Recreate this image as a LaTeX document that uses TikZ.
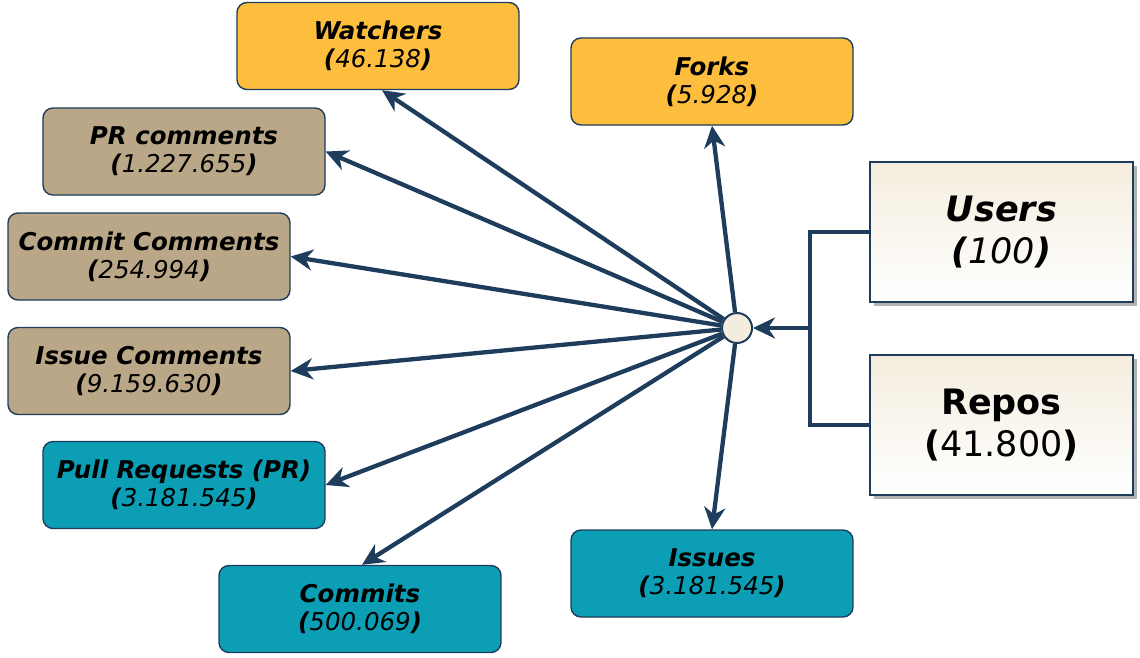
\documentclass[tikz,border=0pt]{standalone}
\usepackage{fontspec}
\setmainfont{DejaVu Sans}
\usetikzlibrary{arrows.meta,shadows}

\definecolor{navy}{HTML}{1E3D5C}
\definecolor{amber}{HTML}{FDBE3D}
\definecolor{tan}{HTML}{BAA787}
\definecolor{teal}{HTML}{0B9EB4}
\definecolor{cream}{HTML}{F4EDDE}

\newcommand{\bi}[1]{\textbf{\textit{#1}}}
\newcommand{\entry}[2]{\bi{#1}\\\bi{(}\textit{#2}\bi{)}}

\tikzset{
  entity/.style={draw=navy, line width=1.4pt, rounded corners=10pt,
    minimum width=282pt, minimum height=87pt, inner sep=0pt,
    align=center, text=black, font=\fontsize{24.5}{28}\selectfont},
  yellowbox/.style={entity, fill=amber},
  tanbox/.style={entity, fill=tan},
  tealbox/.style={entity, fill=teal},
  source/.style={draw=navy, line width=1.6pt, minimum width=263pt,
    minimum height=140pt, inner sep=0pt, align=center,
    top color=cream, bottom color=white,
    drop shadow={shadow xshift=4pt, shadow yshift=-4pt, fill=black!30, opacity=1},
    font=\fontsize{35}{42}\selectfont},
  link/.style={draw=navy, line width=4.3pt},
  flow/.style={link, -{Stealth[length=22pt, width=21pt, inset=7pt]}},
}

\begin{document}
\begin{tikzpicture}[x=1pt, y=-1pt]
  \useasboundingbox (0,0) rectangle (1140,657);

  % target tables
  \node[yellowbox] (watchers) at (378,46)    {\entry{Watchers}{46.138}};
  \node[yellowbox] (forks)    at (712,81.5)  {\entry{Forks}{5.928}};
  \node[tanbox]    (prc)      at (184,151.5) {\entry{PR comments}{1.227.655}};
  \node[tanbox]    (cc)       at (149,256.5) {\entry{Commit Comments}{254.994}};
  \node[tanbox]    (ic)       at (149,371)   {\entry{Issue Comments}{9.159.630}};
  \node[tealbox]   (pr)       at (184,485)   {\entry{Pull Requests (PR)}{3.181.545}};
  \node[tealbox]   (commits)  at (360,609)   {\entry{Commits}{500.069}};
  \node[tealbox]   (issues)   at (712,573.5) {\entry{Issues}{3.181.545}};

  % source tables
  \node[source] (users) at (1001.5,232) {\bi{Users}\\\bi{(}\textit{100}\bi{)}};
  \node[source] (repos) at (1001.5,425) {\textbf{Repos}\\\textbf{(}41.800\textbf{)}};

  % hub
  \node[circle, draw=navy, line width=2pt, fill=cream, minimum size=30pt,
        inner sep=0pt] (hub) at (737,328) {};
  \coordinate (bus) at (810,328);

  % source connectors
  \draw[link] (users.west) -| (bus) |- (repos.west);
  \draw[flow] (bus) -- (hub);

  % fan-out
  \draw[flow] (hub) -- ([xshift=4pt]watchers.south);
  \draw[flow] (hub) -- (forks.south);
  \draw[flow] (hub) -- (prc.east);
  \draw[flow] (hub) -- (cc.east);
  \draw[flow] (hub) -- (ic.east);
  \draw[flow] (hub) -- (pr.east);
  \draw[flow] (hub) -- ([xshift=2pt]commits.north);
  \draw[flow] (hub) -- (issues.north);
\end{tikzpicture}
\end{document}
